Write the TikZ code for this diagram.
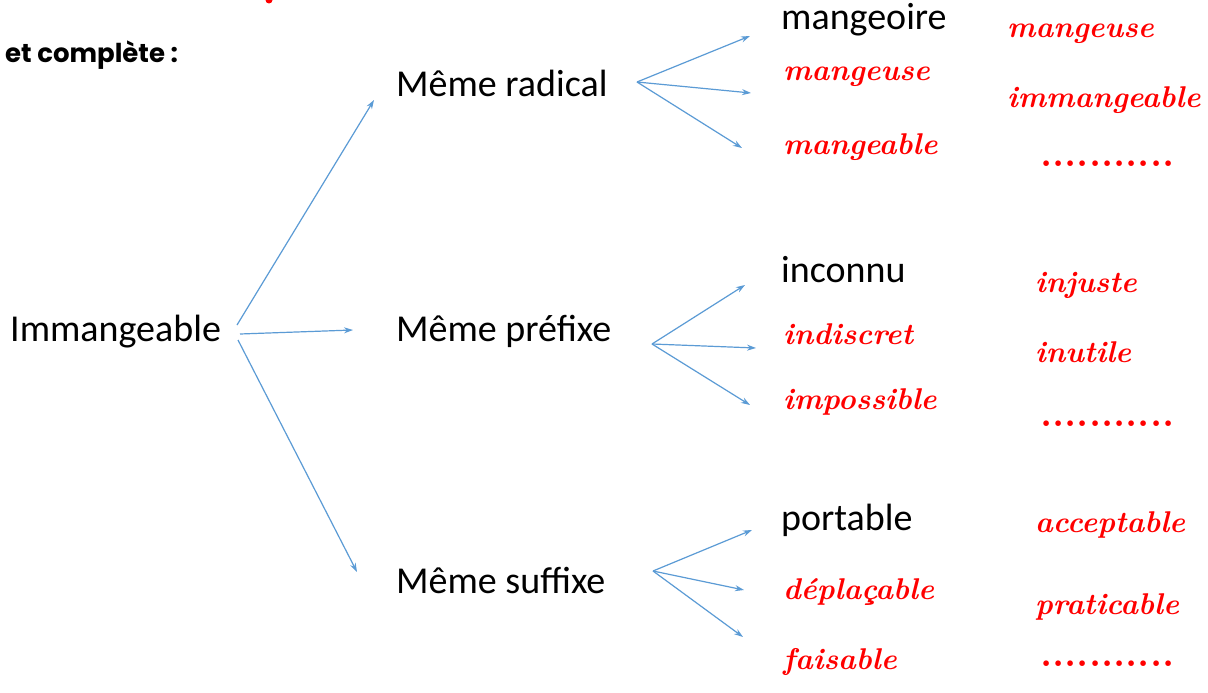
\documentclass[tikz,border=0pt]{standalone}
\usepackage{fontspec}
\newfontfamily\calfont{Carlito}
\newfontfamily\titlefont{Poppins}
\usetikzlibrary{arrows.meta}
\definecolor{arrowblue}{HTML}{5B9BD5}
\definecolor{redink}{HTML}{FF0000}
\tikzset{
  word/.style={anchor=west, inner sep=0pt, font=\calfont\fontsize{38}{40}\selectfont, text=black},
  answer/.style={anchor=west, inner sep=0pt, font=\bfseries\itshape\fontsize{30}{32}\selectfont, text=redink},
  dotrow/.style={anchor=west, inner sep=0pt, font=\bfseries\fontsize{39}{40}\selectfont, text=redink},
  link/.style={draw=arrowblue, line width=1.2pt, -{Stealth[length=9pt,width=6pt]}}
}
\begin{document}
\begin{tikzpicture}[x=1pt,y=-1pt]
\useasboundingbox (0,0) rectangle (1208,693);
\fill[white] (0,0) rectangle (1208,693);
% cut-off title mark
\fill[redink] (269,0) circle (3.5);
\node[anchor=west, inner sep=0pt, font=\titlefont\bfseries\fontsize{26}{28}\selectfont] (title) at (5,55) {et complète :};

% main word and categories
\node[word] (imm) at (10,332) {Immangeable};
\node[word] (rad) at (396,83) {Même radical};
\node[word] (pre) at (396,331) {Même préfixe};
\node[word] (suf) at (396,580) {Même suffixe};

% column of examples
\node[word] (mangeoire) at (781,20) {mangeoire};
\node[answer] (mangeuse) at (783,77) {mangeuse};
\node[answer] (mangeable) at (783,147) {mangeable};
\node[word] (inconnu) at (781,270) {inconnu};
\node[answer] (indiscret) at (783,334) {indiscret};
\node[answer] (impossible) at (783,402) {impossible};
\node[word] (portable) at (781,520) {portable};
\node[answer] (deplacable) at (783,592) {déplaçable};
\node[answer] (faisable) at (783,662) {faisable};

% right column
\node[answer] (mangeuseB) at (1007,34) {mangeuse};
\node[answer] (immangeableB) at (1007,100) {immangeable};
\node[dotrow] (dotsA) at (1040,164) {...........};
\node[answer] (injuste) at (1035,285) {injuste};
\node[answer] (inutile) at (1035,352) {inutile};
\node[dotrow] (dotsB) at (1040,424) {...........};
\node[answer] (acceptable) at (1035,525) {acceptable};
\node[answer] (praticable) at (1035,607) {praticable};
\node[dotrow] (dotsC) at (1040,664) {...........};

% arrow end points
\coordinate (i1) at (237,325);
\coordinate (i2) at (240,334);
\coordinate (i3) at (238,340);
\coordinate (r0) at (637,82);
\coordinate (p0) at (652,344);
\coordinate (s0) at (653,571);
\coordinate (radT) at (374,100);
\coordinate (preT) at (353,330);
\coordinate (sufT) at (357,572);
\coordinate (rt1) at (750,36);
\coordinate (rt2) at (751,93);
\coordinate (rt3) at (742,148);
\coordinate (pt1) at (745,285);
\coordinate (pt2) at (756,348);
\coordinate (pt3) at (750,405);
\coordinate (st1) at (752,530);
\coordinate (st2) at (744,590);
\coordinate (st3) at (743,637);

\draw[link] (i1) -- (radT);
\draw[link] (i2) -- (preT);
\draw[link] (i3) -- (sufT);
\draw[link] (r0) -- (rt1);
\draw[link] (r0) -- (rt2);
\draw[link] (r0) -- (rt3);
\draw[link] (p0) -- (pt1);
\draw[link] (p0) -- (pt2);
\draw[link] (p0) -- (pt3);
\draw[link] (s0) -- (st1);
\draw[link] (s0) -- (st2);
\draw[link] (s0) -- (st3);
\end{tikzpicture}
\end{document}
